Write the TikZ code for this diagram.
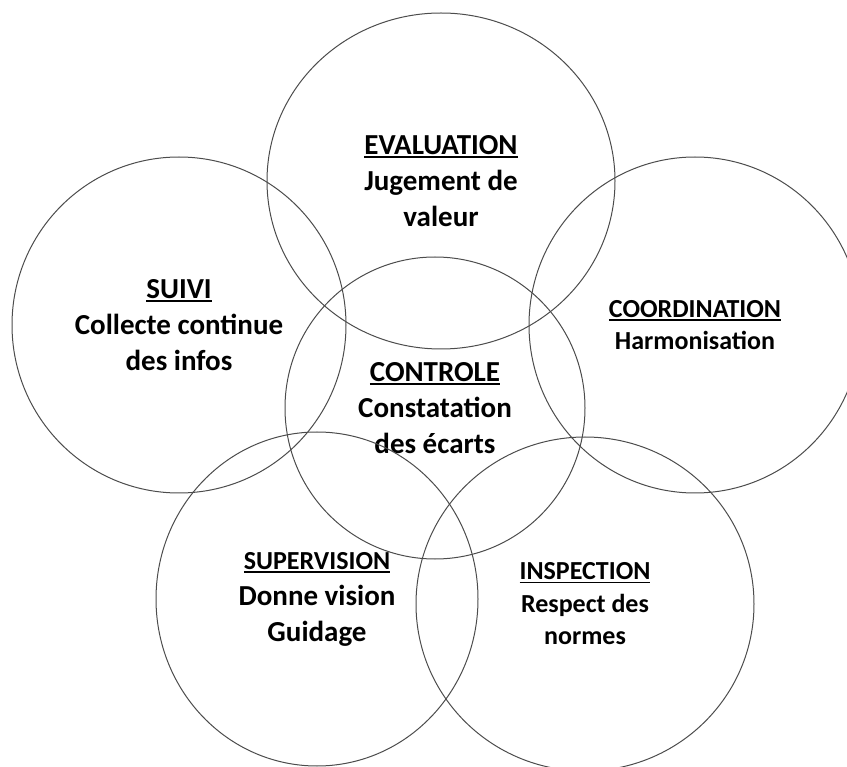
\documentclass[tikz,border=0pt]{standalone}
\usepackage{fontspec}
\setmainfont{Carlito}
\usetikzlibrary{shapes.geometric}
\newcommand\souligne[1]{\setbox0\hbox{#1}\rlap{\rule[-3.5pt]{\wd0}{1.8pt}}\box0}
\tikzset{cercle/.style={draw=black!70, line width=1pt, ellipse, inner sep=0pt, align=center, font=\bfseries\fontsize{29}{36}\selectfont}}
\tikzset{petit/.style={font=\bfseries\fontsize{26}{32.5}\selectfont}}

\begin{document}
\begin{tikzpicture}[x=1pt,y=-1pt]
\useasboundingbox (0,0) rectangle (847,767);
\clip (0,0) rectangle (847,767);
\node[cercle,minimum width=348pt,minimum height=336pt] (evaluation) at (441,181) {\souligne{EVALUATION}\\Jugement de\\valeur};
\node[cercle,minimum width=334pt,minimum height=336pt] (suivi) at (179,325) {\souligne{SUIVI}\\Collecte continue\\des infos};
\node[cercle,petit,minimum width=332pt,minimum height=336pt] (coordination) at (695,325) {\souligne{COORDINATION}\\Harmonisation};
\node[cercle,minimum width=300pt,minimum height=302pt] (controle) at (435,408) {\souligne{CONTROLE}\\Constatation\\des écarts};
\node[cercle,minimum width=322pt,minimum height=334pt] (supervision) at (317,599) {{\fontsize{26}{36}\selectfont\souligne{SUPERVISION}}\\Donne vision\\Guidage};
\node[cercle,petit,minimum width=338pt,minimum height=334pt] (inspection) at (585,604) {\souligne{INSPECTION}\\Respect des\\normes};
\end{tikzpicture}
\end{document}
